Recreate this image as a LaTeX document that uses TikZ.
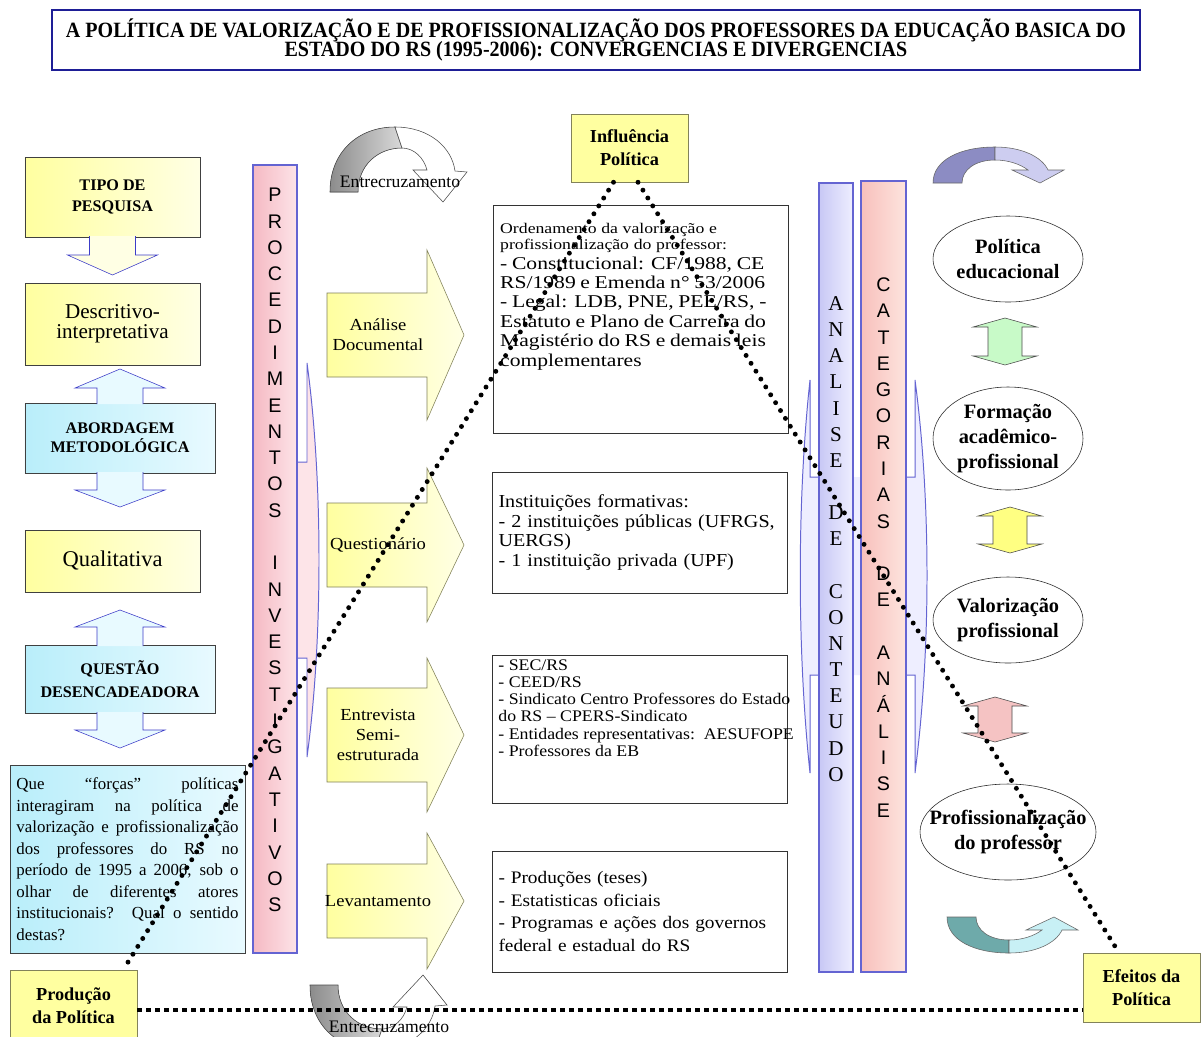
\documentclass[tikz,border=0pt]{standalone}
\usepackage{fontspec}
\setmainfont{Liberation Serif}
\setsansfont{Liberation Sans}
\newfontfamily\boxfont{Liberation Serif}[FakeStretch=1.1]
\newfontfamily\widefont{Liberation Serif}[FakeStretch=1.2]
\newfontfamily\condfont{Liberation Serif}[FakeStretch=0.92]
\usetikzlibrary{shapes.geometric, calc}

\definecolor{titleblue}{RGB}{30,30,150}
\definecolor{ylight}{RGB}{255,255,160}
\definecolor{ypale}{RGB}{255,255,228}
\definecolor{clight}{RGB}{185,238,250}
\definecolor{cpale}{RGB}{232,250,255}
\definecolor{arrblue}{RGB}{60,60,200}
\definecolor{barblue}{RGB}{100,100,210}
\definecolor{pinkbar}{RGB}{245,185,195}
\definecolor{pinkpale}{RGB}{253,228,232}
\definecolor{lavbar}{RGB}{200,200,245}
\definecolor{lavpale}{RGB}{238,238,255}
\definecolor{salmon}{RGB}{248,192,188}
\definecolor{salmonpale}{RGB}{253,228,222}
\definecolor{arrgreen}{RGB}{200,250,200}
\definecolor{arryellow}{RGB}{255,255,130}
\definecolor{arrpink}{RGB}{245,195,195}
\definecolor{olive}{RGB}{130,130,90}
\definecolor{lavdark}{RGB}{140,140,195}
\definecolor{lavlight}{RGB}{205,205,240}
\definecolor{tealdark}{RGB}{110,170,170}
\definecolor{teallight}{RGB}{200,240,245}

% curved arrows (tail on the left, head on the right)
\newcommand{\entrarrow}{%
  \filldraw[draw=black!70, left color=black!45, right color=black!15]
    (330,192) .. controls (330,152) and (358,127) .. (395,127) -- (402,148)
    .. controls (378,148) and (358,165) .. (358,192) -- cycle;
  \filldraw[draw=black!70, fill=white]
    (395,127) .. controls (430,127) and (452,148) .. (455,171) -- (467,172) -- (443,202)
    -- (413,170) -- (427,170) .. controls (424,158) and (414,148) .. (402,148) -- cycle;}
\newcommand{\turnarrow}[2]{%
  \filldraw[draw=black!60, fill=#1]
    (933,183) .. controls (933,160) and (960,147) .. (995,147) -- (995,160)
    .. controls (975,160) and (962,170) .. (962,183) -- cycle;
  \filldraw[draw=black!60, fill=#2]
    (995,147) .. controls (1022,147) and (1042,157) .. (1048,170) -- (1064,170) -- (1040,183)
    -- (1012,170) -- (1028,170) .. controls (1020,164) and (1008,160) .. (995,160) -- cycle;}

\begin{document}
\begin{tikzpicture}[
    x=0.25mm, y=-0.25mm,
    every node/.style={inner sep=0pt, align=center},
    ybox/.style={rectangle, draw=black!75, left color=ylight, right color=ypale},
    cbox/.style={rectangle, draw=black!75, left color=clight, right color=cpale},
    hbox/.style={rectangle, draw=olive, fill=ylight, font=\bfseries\fontsize{13}{16.4}\selectfont},
    tbox/.style={rectangle, draw=black!80, fill=white, align=left, inner sep=1.6mm},
    larrow/.style={draw=arrblue, line join=miter},
    yarrow/.style={draw=olive, left color=ylight, right color=ypale},
    armtext/.style={font=\boxfont\fontsize{12}{14.5}\selectfont},
    bar/.style={rectangle, draw=barblue, line width=0.9pt},
    barline/.style={draw=barblue, line width=0.7pt},
    vletters/.style={font=\sffamily\fontsize{14}{18.7}\selectfont},
    oval/.style={ellipse, draw=black!85, fill=white},
    ovaltext/.style={font=\bfseries\fontsize{14.5}{17.5}\selectfont},
    dblarr/.style={draw=black!70},
    dotline/.style={line width=3.5pt, dash pattern=on 0pt off 6.6pt, line cap=round},
    dashline/.style={line width=3.4pt, dash pattern=on 3.2pt off 3.2pt}
]
\fill[white] (0,0) rectangle (1201,1036);
\useasboundingbox (0,0) rectangle (1201,1036);
\clip (0,0) rectangle (1201,1036);

% Title
\node[draw=titleblue, line width=2pt, fill=white, minimum width=272mm, minimum height=15mm,
      font=\condfont\bfseries\fontsize{15.5}{14}\selectfont] (title) at (596,40)
  {A POLÍTICA DE VALORIZAÇÃO E DE PROFISSIONALIZAÇÃO DOS PROFESSORES DA EDUCAÇÃO BASICA DO\\
   ESTADO DO RS (1995-2006): CONVERGENCIAS E DIVERGENCIAS};

% ============ Left column ============
\node[ybox, minimum width=43.75mm, minimum height=20mm, font=\bfseries\fontsize{11.5}{15.5}\selectfont] (tipo) at (112.5,197) {TIPO DE\\PESQUISA};
\node[ybox, minimum width=43.75mm, minimum height=20.5mm, font=\fontsize{15}{14}\selectfont] (descr) at (112.5,324) {Descritivo-\\interpretativa};
\node[cbox, minimum width=47.5mm, minimum height=17.5mm, font=\bfseries\fontsize{11.5}{13.5}\selectfont] (abord) at (120,438) {ABORDAGEM\\METODOLÓGICA};
\node[ybox, minimum width=43.75mm, minimum height=15.5mm, font=\fontsize{16}{16}\selectfont] (quali) at (112.5,561) {Qualitativa};
\node[cbox, minimum width=47.5mm, minimum height=17mm, font=\bfseries\fontsize{11.5}{16}\selectfont] (questao) at (120,679) {QUESTÃO\\DESENCADEADORA};
\foreach \cx/\ya/\yb/\yc/\fc in {112.5/236/255/275/ypale, 120/404/388/369/cpale, 120/472/490/507/cpale,
                                 120/646/627/610/cpale, 120/712/730/748/cpale}
  \draw[larrow, fill=\fc] (\cx-23,\ya) -- (\cx-23,\yb) -- (\cx-45,\yb) -- (\cx,\yc)
    -- (\cx+45,\yb) -- (\cx+23,\yb) -- (\cx+23,\ya);

\node[cbox, text width=55.5mm, minimum height=47mm, align=justify, inner sep=1.6mm,
      font=\fontsize{12}{15.3}\selectfont] (pergunta) at (127.5,859)
  {Que “forças” políticas\linebreak interagiram na política de\linebreak valorização e profissionalização\linebreak
   dos professores do RS no\linebreak período de 1995 a 2006, sob o\linebreak olhar de diferentes atores\linebreak
   institucionais? Qual o sentido\linebreak destas?};

\node[hbox, minimum width=31.75mm, minimum height=18mm] (prod) at (73.5,1006) {Produção\\da Política};

% ============ Procedimentos investigativos ============
\draw[barline, fill=pinkpale] (280,462) -- (307,462) -- (307,363) .. controls (323,480) and (323,640) .. (307,757)
  -- (307,658) -- (280,658);
\node[bar, left color=pinkbar, right color=pinkpale, minimum width=11mm, minimum height=197mm] (proc) at (275,559) {};
\node[vletters] (proctxt) at (275,550)
  {P\\R\\O\\C\\E\\D\\I\\M\\E\\N\\T\\O\\S\\[18.7pt]I\\N\\V\\E\\S\\T\\I\\G\\A\\T\\I\\V\\O\\S};

\foreach \yc/\hh/\sh/\nm/\txt in {335/85/42/analise/{Análise\\Documental}, 545/77/42/questionario/{Questionário},
                                  735/77/47/entrevista/{Entrevista\\Semi-\\estruturada}, 901/68/37/levantamento/{Levantamento}} {
  \draw[yarrow] (327,\yc-\sh) -- (427,\yc-\sh) -- (427,\yc-\hh) -- (464,\yc) -- (427,\yc+\hh)
    -- (427,\yc+\sh) -- (327,\yc+\sh) -- cycle;
  \node[armtext] (\nm) at (378,\yc) {\txt};
}

% ============ Text boxes ============
\node[tbox, minimum width=73.75mm, minimum height=57mm] (ordem) at (640.5,319) {};
\node[align=left, text width=72mm, anchor=north west, font=\widefont] (ordemtxt)
  at ([shift={(1.8mm,-4.6mm)}]ordem.north west)
  {{\fontsize{10.5}{11.4}\selectfont Ordenamento da valorização e\\profissionalização do professor:\par}%
   {\fontsize{12.8}{13.8}\selectfont - Constitucional: CF/1988, CE\\RS/1989 e Emenda n° 53/2006\\
    - Legal: LDB, PNE, PEE/RS, -\\Estatuto e Plano de Carreira do\\Magistério do RS e demais leis\\complementares\par}};
\node[tbox, text width=70.5mm, minimum height=30.25mm, font=\boxfont\fontsize{13}{14}\selectfont] (inst) at (639.5,532.5)
  {Instituições formativas:\\- 2 instituições públicas (UFRGS,\\UERGS)\\- 1 instituição privada (UPF)};
\node[tbox, minimum width=73.75mm, minimum height=37mm] (sec) at (639.5,729) {};
\node[align=left, anchor=north west, font=\boxfont\fontsize{11.5}{12.2}\selectfont] (sectxt)
  at ([shift={(1.6mm,-1.2mm)}]sec.north west)
  {- SEC/RS\\- CEED/RS\\- Sindicato Centro Professores do Estado\\do RS – CPERS-Sindicato\\
   - Entidades representativas:\ \ AESUFOPE\\- Professores da EB};
\node[tbox, text width=70.5mm, minimum height=30.25mm, font=\boxfont\fontsize{12.5}{16.3}\selectfont] (fontes) at (639.5,911.5)
  {- Produções (teses)\\- Estatisticas oficiais\\- Programas e ações dos governos\\federal e estadual do RS};

% ============ Analise / Categorias ============
\fill[lavpale] (810,477) -- (810,380) .. controls (797,500) and (797,650) .. (810,773) -- (810,675)
  -- (915,675) -- (915,773) .. controls (931,650) and (931,500) .. (915,380) -- (915,477) -- cycle;
\draw[barline] (819,477) -- (810,477) -- (810,380) .. controls (797,500) and (797,650) .. (810,773) -- (810,675) -- (819,675);
\draw[barline] (906,477) -- (915,477) -- (915,380) .. controls (931,500) and (931,650) .. (915,773) -- (915,675) -- (906,675);
\node[bar, left color=lavbar, right color=lavpale, minimum width=8.5mm, minimum height=197.25mm] (analbar) at (836,577.5) {};
\node[font=\fontsize{15}{18.6}\selectfont] (analtxt) at (836,539)
  {A\\N\\A\\L\\I\\S\\E\\[18.6pt]D\\E\\[18.6pt]C\\O\\N\\T\\E\\U\\D\\O};
\node[bar, left color=salmon, right color=salmonpale, minimum width=11.25mm, minimum height=197.75mm] (categ) at (883.5,576.5) {};
\node[vletters] (categtxt) at (883.5,547.5)
  {C\\A\\T\\E\\G\\O\\R\\I\\A\\S\\[18.7pt]D\\E\\[18.7pt]A\\N\\Á\\L\\I\\S\\E};

% Categories
\node[oval, minimum width=37.5mm, minimum height=21.5mm] (polit) at (1008,259) {};
\node[ovaltext] (polittxt) at (polit) {Política\\educacional};
\node[oval, minimum width=37.5mm, minimum height=25.75mm] (form) at (1008,438.5) {};
\node[ovaltext] (formtxt) at (form) {Formação\\acadêmico-\\profissional};
\node[oval, minimum width=37.5mm, minimum height=21.5mm] (valor) at (1008,620) {};
\node[ovaltext] (valortxt) at (valor) {Valorização\\profissional};
\node[oval, minimum width=44mm, minimum height=24mm] (profis) at (1008,832) {};
\node[ovaltext] (profistxt) at (profis) {Profissionalização\\do professor};

\foreach \cx/\ya/\yb/\col in {1005/318/365/arrgreen, 1010/507/553/arryellow, 995/697/742/arrpink}
  \draw[dblarr, fill=\col] (\cx,\ya) -- (\cx+32,\ya+9) -- (\cx+17,\ya+9) -- (\cx+17,\yb-9) -- (\cx+32,\yb-9)
    -- (\cx,\yb) -- (\cx-32,\yb-9) -- (\cx-17,\yb-9) -- (\cx-17,\ya+9) -- (\cx-32,\ya+9) -- cycle;

\turnarrow{lavdark}{lavlight}
\begin{scope}[shift={(14,1100)}, yscale=-1]
  \turnarrow{tealdark}{teallight}
\end{scope}

% Entrecruzamento
\entrarrow
\node[font=\fontsize{12.5}{13}\selectfont] (entrtop) at (400,182) {Entrecruzamento};
\begin{scope}[shift={(-20,1177)}, yscale=-1]
  \entrarrow
\end{scope}
\node[font=\fontsize{12.5}{13}\selectfont] (entrbot) at (389,1027) {Entrecruzamento};

% Policy cycle
\node[hbox, minimum width=29.25mm, minimum height=17mm] (infl) at (629.5,148) {Influência\\Política};
\node[hbox, minimum width=29.25mm, minimum height=17.25mm] (efeitos) at (1141.5,987.5) {Efeitos da\\Política};

\draw[dotline] ($(infl.south)+(-16,0)$) -- ($(prod.north east)+(-14,0)$);
\draw[dotline] ($(infl.south)+(8.5,0)$) -- ($(efeitos.north)+(-22.5,0)$);
\coordinate (base) at (0,1010);
\draw[dashline] (prod.east |- base) -- (efeitos.west |- base);

\end{tikzpicture}
\end{document}
